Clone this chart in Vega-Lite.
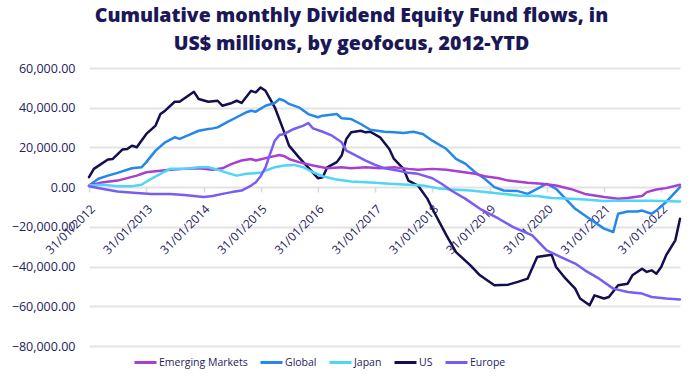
{
"$schema":"https://vega.github.io/schema/vega-lite/v6.json",
"width":591,"height":278,
"autosize":{"type":"none"},
"padding":{"left":89,"top":68,"right":20,"bottom":30},
"background":"white",
"title":{"text":["Cumulative monthly Dividend Equity Fund flows, in","US$ millions, by geofocus, 2012-YTD"],"anchor":"middle","dx":-33,"font":"Open Sans","fontSize":19.5,"fontWeight":800,"color":"#1b1858","lineHeight":28,"offset":8},
"data":{"values":[
{"s":"US","d":"2012-01-01","v":5000},{"s":"US","d":"2012-02-01","v":9200},{"s":"US","d":"2012-05-01","v":13900},{"s":"US","d":"2012-06-01","v":14200},{"s":"US","d":"2012-08-01","v":18900},{"s":"US","d":"2012-09-01","v":19200},{"s":"US","d":"2012-10-01","v":20900},{"s":"US","d":"2012-11-01","v":20100},{"s":"US","d":"2013-01-01","v":26800},{"s":"US","d":"2013-03-01","v":31000},{"s":"US","d":"2013-04-01","v":36800},{"s":"US","d":"2013-05-01","v":38500},{"s":"US","d":"2013-07-01","v":43000},{"s":"US","d":"2013-08-01","v":43000},{"s":"US","d":"2013-11-01","v":48000},{"s":"US","d":"2013-12-01","v":44400},{"s":"US","d":"2014-02-01","v":43000},{"s":"US","d":"2014-04-01","v":43500},{"s":"US","d":"2014-05-01","v":41000},{"s":"US","d":"2014-07-01","v":42400},{"s":"US","d":"2014-08-01","v":43500},{"s":"US","d":"2014-09-01","v":42400},{"s":"US","d":"2014-11-01","v":48500},{"s":"US","d":"2014-12-01","v":47700},{"s":"US","d":"2015-01-01","v":50200},{"s":"US","d":"2015-02-01","v":48500},{"s":"US","d":"2015-04-01","v":40200},{"s":"US","d":"2015-06-01","v":27600},{"s":"US","d":"2015-07-01","v":20900},{"s":"US","d":"2015-09-01","v":15100},{"s":"US","d":"2016-01-01","v":4500},{"s":"US","d":"2016-02-01","v":5000},{"s":"US","d":"2016-03-01","v":10000},{"s":"US","d":"2016-05-01","v":12600},{"s":"US","d":"2016-06-01","v":15900},{"s":"US","d":"2016-07-01","v":24300},{"s":"US","d":"2016-08-01","v":27600},{"s":"US","d":"2016-10-01","v":28400},{"s":"US","d":"2016-11-01","v":27600},{"s":"US","d":"2016-12-01","v":27900},{"s":"US","d":"2017-02-01","v":25100},{"s":"US","d":"2017-04-01","v":19200},{"s":"US","d":"2017-05-01","v":14200},{"s":"US","d":"2017-07-01","v":9200},{"s":"US","d":"2017-08-01","v":3300},{"s":"US","d":"2017-10-01","v":800},{"s":"US","d":"2017-12-01","v":-5900},{"s":"US","d":"2018-01-01","v":-10900},{"s":"US","d":"2018-04-01","v":-24300},{"s":"US","d":"2018-06-01","v":-32700},{"s":"US","d":"2018-09-01","v":-39400},{"s":"US","d":"2018-11-01","v":-44400},{"s":"US","d":"2019-02-01","v":-49400},{"s":"US","d":"2019-05-01","v":-49100},{"s":"US","d":"2019-07-01","v":-47700},{"s":"US","d":"2019-09-01","v":-46100},{"s":"US","d":"2019-11-01","v":-35200},{"s":"US","d":"2020-02-01","v":-34000},{"s":"US","d":"2020-03-01","v":-40200},{"s":"US","d":"2020-05-01","v":-46100},{"s":"US","d":"2020-07-01","v":-51100},{"s":"US","d":"2020-08-01","v":-56100},{"s":"US","d":"2020-10-01","v":-59500},{"s":"US","d":"2020-11-01","v":-54500},{"s":"US","d":"2021-01-01","v":-56100},{"s":"US","d":"2021-02-01","v":-55300},{"s":"US","d":"2021-04-01","v":-49400},{"s":"US","d":"2021-06-01","v":-48600},{"s":"US","d":"2021-07-01","v":-44400},{"s":"US","d":"2021-09-01","v":-41100},{"s":"US","d":"2021-10-01","v":-42700},{"s":"US","d":"2021-11-01","v":-41900},{"s":"US","d":"2021-12-01","v":-43600},{"s":"US","d":"2022-01-01","v":-40200},{"s":"US","d":"2022-02-01","v":-34400},{"s":"US","d":"2022-04-01","v":-26800},{"s":"US","d":"2022-05-01","v":-15900},
{"s":"Global","d":"2012-01-01","v":800},{"s":"Global","d":"2012-03-01","v":4200},{"s":"Global","d":"2012-05-01","v":5800},{"s":"Global","d":"2012-07-01","v":7200},{"s":"Global","d":"2012-10-01","v":9500},{"s":"Global","d":"2012-12-01","v":10000},{"s":"Global","d":"2013-01-01","v":12600},{"s":"Global","d":"2013-03-01","v":18400},{"s":"Global","d":"2013-05-01","v":22600},{"s":"Global","d":"2013-07-01","v":25100},{"s":"Global","d":"2013-08-01","v":24300},{"s":"Global","d":"2013-10-01","v":26300},{"s":"Global","d":"2013-12-01","v":28400},{"s":"Global","d":"2014-02-01","v":29300},{"s":"Global","d":"2014-03-01","v":29600},{"s":"Global","d":"2014-04-01","v":30100},{"s":"Global","d":"2014-06-01","v":32700},{"s":"Global","d":"2014-08-01","v":35200},{"s":"Global","d":"2014-10-01","v":37700},{"s":"Global","d":"2014-11-01","v":38500},{"s":"Global","d":"2014-12-01","v":38000},{"s":"Global","d":"2015-02-01","v":41000},{"s":"Global","d":"2015-04-01","v":42400},{"s":"Global","d":"2015-05-01","v":44400},{"s":"Global","d":"2015-06-01","v":43500},{"s":"Global","d":"2015-07-01","v":41900},{"s":"Global","d":"2015-09-01","v":40200},{"s":"Global","d":"2015-11-01","v":36800},{"s":"Global","d":"2016-01-01","v":35200},{"s":"Global","d":"2016-02-01","v":36000},{"s":"Global","d":"2016-05-01","v":36800},{"s":"Global","d":"2016-06-01","v":34700},{"s":"Global","d":"2016-08-01","v":34300},{"s":"Global","d":"2016-10-01","v":31800},{"s":"Global","d":"2016-12-01","v":28900},{"s":"Global","d":"2017-03-01","v":27900},{"s":"Global","d":"2017-05-01","v":27600},{"s":"Global","d":"2017-07-01","v":27300},{"s":"Global","d":"2017-09-01","v":27900},{"s":"Global","d":"2017-11-01","v":26800},{"s":"Global","d":"2018-01-01","v":23400},{"s":"Global","d":"2018-04-01","v":19200},{"s":"Global","d":"2018-06-01","v":14200},{"s":"Global","d":"2018-08-01","v":11700},{"s":"Global","d":"2018-10-01","v":7500},{"s":"Global","d":"2018-12-01","v":4200},{"s":"Global","d":"2019-02-01","v":0},{"s":"Global","d":"2019-04-01","v":-1700},{"s":"Global","d":"2019-07-01","v":-2000},{"s":"Global","d":"2019-09-01","v":-3400},{"s":"Global","d":"2019-11-01","v":-900},{"s":"Global","d":"2020-01-01","v":1700},{"s":"Global","d":"2020-03-01","v":-900},{"s":"Global","d":"2020-05-01","v":-5900},{"s":"Global","d":"2020-07-01","v":-10900},{"s":"Global","d":"2020-10-01","v":-15900},{"s":"Global","d":"2021-01-01","v":-20900},{"s":"Global","d":"2021-03-01","v":-22600},{"s":"Global","d":"2021-04-01","v":-13400},{"s":"Global","d":"2021-06-01","v":-12300},{"s":"Global","d":"2021-08-01","v":-12300},{"s":"Global","d":"2021-09-01","v":-11800},{"s":"Global","d":"2021-11-01","v":-13400},{"s":"Global","d":"2021-12-01","v":-11800},{"s":"Global","d":"2022-02-01","v":-7500},{"s":"Global","d":"2022-05-01","v":0},
{"s":"Emerging Markets","d":"2012-01-01","v":800},{"s":"Emerging Markets","d":"2012-04-01","v":2500},{"s":"Emerging Markets","d":"2012-07-01","v":3300},{"s":"Emerging Markets","d":"2012-11-01","v":5800},{"s":"Emerging Markets","d":"2013-01-01","v":7500},{"s":"Emerging Markets","d":"2013-04-01","v":8300},{"s":"Emerging Markets","d":"2013-06-01","v":8800},{"s":"Emerging Markets","d":"2013-09-01","v":9200},{"s":"Emerging Markets","d":"2013-12-01","v":9500},{"s":"Emerging Markets","d":"2014-03-01","v":8800},{"s":"Emerging Markets","d":"2014-05-01","v":9500},{"s":"Emerging Markets","d":"2014-07-01","v":11700},{"s":"Emerging Markets","d":"2014-09-01","v":13400},{"s":"Emerging Markets","d":"2014-11-01","v":14200},{"s":"Emerging Markets","d":"2014-12-01","v":13400},{"s":"Emerging Markets","d":"2015-03-01","v":15100},{"s":"Emerging Markets","d":"2015-05-01","v":16200},{"s":"Emerging Markets","d":"2015-06-01","v":15600},{"s":"Emerging Markets","d":"2015-07-01","v":14200},{"s":"Emerging Markets","d":"2015-09-01","v":12600},{"s":"Emerging Markets","d":"2015-12-01","v":10900},{"s":"Emerging Markets","d":"2016-03-01","v":9500},{"s":"Emerging Markets","d":"2016-06-01","v":10000},{"s":"Emerging Markets","d":"2016-08-01","v":9500},{"s":"Emerging Markets","d":"2016-11-01","v":10000},{"s":"Emerging Markets","d":"2017-02-01","v":9500},{"s":"Emerging Markets","d":"2017-05-01","v":10000},{"s":"Emerging Markets","d":"2017-08-01","v":9200},{"s":"Emerging Markets","d":"2017-10-01","v":8800},{"s":"Emerging Markets","d":"2018-01-01","v":9200},{"s":"Emerging Markets","d":"2018-04-01","v":8800},{"s":"Emerging Markets","d":"2018-07-01","v":7800},{"s":"Emerging Markets","d":"2018-10-01","v":6700},{"s":"Emerging Markets","d":"2018-12-01","v":5500},{"s":"Emerging Markets","d":"2019-03-01","v":4500},{"s":"Emerging Markets","d":"2019-05-01","v":3300},{"s":"Emerging Markets","d":"2019-09-01","v":2200},{"s":"Emerging Markets","d":"2019-12-01","v":1700},{"s":"Emerging Markets","d":"2020-03-01","v":800},{"s":"Emerging Markets","d":"2020-06-01","v":-900},{"s":"Emerging Markets","d":"2020-09-01","v":-3400},{"s":"Emerging Markets","d":"2021-01-01","v":-5000},{"s":"Emerging Markets","d":"2021-04-01","v":-5900},{"s":"Emerging Markets","d":"2021-06-01","v":-5500},{"s":"Emerging Markets","d":"2021-09-01","v":-4500},{"s":"Emerging Markets","d":"2021-10-01","v":-2500},{"s":"Emerging Markets","d":"2021-12-01","v":-1200},{"s":"Emerging Markets","d":"2022-02-01","v":-500},{"s":"Emerging Markets","d":"2022-05-01","v":1200},
{"s":"Japan","d":"2012-01-01","v":800},{"s":"Japan","d":"2012-04-01","v":1200},{"s":"Japan","d":"2012-07-01","v":500},{"s":"Japan","d":"2012-10-01","v":500},{"s":"Japan","d":"2012-12-01","v":1200},{"s":"Japan","d":"2013-02-01","v":4200},{"s":"Japan","d":"2013-04-01","v":6700},{"s":"Japan","d":"2013-06-01","v":9200},{"s":"Japan","d":"2013-09-01","v":9200},{"s":"Japan","d":"2013-12-01","v":10000},{"s":"Japan","d":"2014-02-01","v":10000},{"s":"Japan","d":"2014-04-01","v":8800},{"s":"Japan","d":"2014-06-01","v":7200},{"s":"Japan","d":"2014-08-01","v":5800},{"s":"Japan","d":"2014-10-01","v":6700},{"s":"Japan","d":"2015-01-01","v":7200},{"s":"Japan","d":"2015-02-01","v":8300},{"s":"Japan","d":"2015-04-01","v":10000},{"s":"Japan","d":"2015-06-01","v":10900},{"s":"Japan","d":"2015-08-01","v":11200},{"s":"Japan","d":"2015-10-01","v":10000},{"s":"Japan","d":"2015-12-01","v":7500},{"s":"Japan","d":"2016-02-01","v":5500},{"s":"Japan","d":"2016-05-01","v":3800},{"s":"Japan","d":"2016-08-01","v":2800},{"s":"Japan","d":"2016-11-01","v":2500},{"s":"Japan","d":"2017-01-01","v":2200},{"s":"Japan","d":"2017-04-01","v":1700},{"s":"Japan","d":"2017-08-01","v":1200},{"s":"Japan","d":"2017-11-01","v":800},{"s":"Japan","d":"2018-02-01","v":-500},{"s":"Japan","d":"2018-05-01","v":-1200},{"s":"Japan","d":"2018-09-01","v":-1700},{"s":"Japan","d":"2018-12-01","v":-2500},{"s":"Japan","d":"2019-04-01","v":-3400},{"s":"Japan","d":"2019-07-01","v":-4200},{"s":"Japan","d":"2019-11-01","v":-4500},{"s":"Japan","d":"2020-02-01","v":-5500},{"s":"Japan","d":"2020-06-01","v":-5900},{"s":"Japan","d":"2020-09-01","v":-6200},{"s":"Japan","d":"2021-01-01","v":-7000},{"s":"Japan","d":"2021-04-01","v":-6900},{"s":"Japan","d":"2021-08-01","v":-6900},{"s":"Japan","d":"2021-11-01","v":-6900},{"s":"Japan","d":"2022-05-01","v":-7200},
{"s":"Europe","d":"2012-01-01","v":500},{"s":"Europe","d":"2012-04-01","v":-900},{"s":"Europe","d":"2012-07-01","v":-2200},{"s":"Europe","d":"2012-11-01","v":-2900},{"s":"Europe","d":"2013-02-01","v":-3400},{"s":"Europe","d":"2013-06-01","v":-3400},{"s":"Europe","d":"2013-09-01","v":-3900},{"s":"Europe","d":"2013-11-01","v":-4500},{"s":"Europe","d":"2014-01-01","v":-5000},{"s":"Europe","d":"2014-03-01","v":-4500},{"s":"Europe","d":"2014-05-01","v":-3400},{"s":"Europe","d":"2014-07-01","v":-2500},{"s":"Europe","d":"2014-09-01","v":-1700},{"s":"Europe","d":"2014-11-01","v":800},{"s":"Europe","d":"2014-12-01","v":2500},{"s":"Europe","d":"2015-01-01","v":5500},{"s":"Europe","d":"2015-02-01","v":10000},{"s":"Europe","d":"2015-03-01","v":16500},{"s":"Europe","d":"2015-04-01","v":23400},{"s":"Europe","d":"2015-05-01","v":26300},{"s":"Europe","d":"2015-06-01","v":26800},{"s":"Europe","d":"2015-08-01","v":29300},{"s":"Europe","d":"2015-10-01","v":31000},{"s":"Europe","d":"2015-11-01","v":32300},{"s":"Europe","d":"2015-12-01","v":29600},{"s":"Europe","d":"2016-02-01","v":27900},{"s":"Europe","d":"2016-04-01","v":25900},{"s":"Europe","d":"2016-06-01","v":22600},{"s":"Europe","d":"2016-07-01","v":18400},{"s":"Europe","d":"2016-09-01","v":15900},{"s":"Europe","d":"2016-11-01","v":13400},{"s":"Europe","d":"2017-01-01","v":11200},{"s":"Europe","d":"2017-03-01","v":9500},{"s":"Europe","d":"2017-06-01","v":8300},{"s":"Europe","d":"2017-08-01","v":7200},{"s":"Europe","d":"2017-10-01","v":6700},{"s":"Europe","d":"2018-01-01","v":4500},{"s":"Europe","d":"2018-03-01","v":1700},{"s":"Europe","d":"2018-05-01","v":-1700},{"s":"Europe","d":"2018-08-01","v":-5900},{"s":"Europe","d":"2018-11-01","v":-10900},{"s":"Europe","d":"2019-03-01","v":-15900},{"s":"Europe","d":"2019-06-01","v":-20100},{"s":"Europe","d":"2019-10-01","v":-24300},{"s":"Europe","d":"2020-01-01","v":-31900},{"s":"Europe","d":"2020-04-01","v":-35200},{"s":"Europe","d":"2020-07-01","v":-38500},{"s":"Europe","d":"2020-09-01","v":-41900},{"s":"Europe","d":"2020-12-01","v":-46100},{"s":"Europe","d":"2021-03-01","v":-51100},{"s":"Europe","d":"2021-06-01","v":-52800},{"s":"Europe","d":"2021-09-01","v":-53600},{"s":"Europe","d":"2021-11-01","v":-55300},{"s":"Europe","d":"2022-02-01","v":-56100},{"s":"Europe","d":"2022-05-01","v":-56600}
]},
"mark":{"type":"line","strokeWidth":2.5,"strokeJoin":"round","strokeCap":"round"},
"encoding":{
"x":{"field":"d","type":"temporal","scale":{"type":"utc","domain":[{"year":2012,"month":1,"date":1,"utc":true},{"year":2022,"month":5,"date":1,"utc":true}]},
 "axis":{"title":null,"grid":false,"domain":false,"ticks":true,"tickColor":"#d9d9d9","tickSize":5,"tickWidth":1.5,"offset":-159,
 "values":[{"year":2012,"month":1,"date":1,"utc":true},{"year":2013,"month":1,"date":1,"utc":true},{"year":2014,"month":1,"date":1,"utc":true},{"year":2015,"month":1,"date":1,"utc":true},{"year":2016,"month":1,"date":1,"utc":true},{"year":2017,"month":1,"date":1,"utc":true},{"year":2018,"month":1,"date":1,"utc":true},{"year":2019,"month":1,"date":1,"utc":true},{"year":2020,"month":1,"date":1,"utc":true},{"year":2021,"month":1,"date":1,"utc":true},{"year":2022,"month":1,"date":1,"utc":true}],
 "labelExpr":"'31/01/' + utcFormat(datum.value, '%Y')","labelAngle":-45,"labelFont":"Open Sans","labelFontSize":12,"labelColor":"#25225f","labelPadding":11,"labelOverlap":false,"labelBound":false,"labelFlush":false}},
"y":{"field":"v","type":"quantitative","scale":{"domain":[-80000,60000],"nice":false,"zero":false},
 "axis":{"title":null,"values":[-80000,-60000,-40000,-20000,0,20000,40000,60000],"format":",.2f","domain":false,"ticks":false,"grid":true,"gridColor":"#e3e3e3","gridWidth":2,"labelFont":"Open Sans","labelFontSize":12.5,"labelColor":"#25225f","labelPadding":14}},
"color":{"field":"s","type":"nominal","scale":{"domain":["Emerging Markets","Global","Japan","US","Europe"],"range":["#a83fd0","#2388ea","#4fd5f6","#130f4f","#7a5cf2"]},
 "legend":{"title":null,"orient":"none","legendX":44,"legendY":282,"direction":"horizontal","gridAlign":"none","symbolType":"stroke","symbolSize":484,"symbolStrokeWidth":3,"labelFont":"Open Sans","labelFontSize":10.5,"labelColor":"#25225f","labelOffset":1,"columnPadding":6}}
},
"config":{"view":{"stroke":null}}
}
